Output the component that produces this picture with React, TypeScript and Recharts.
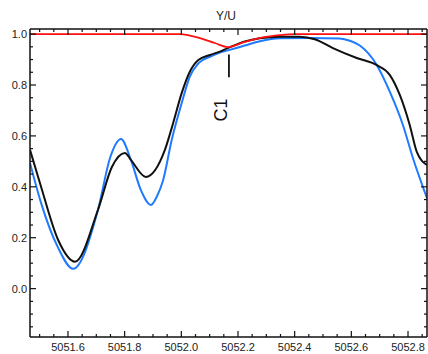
import React from 'react'
import { LineChart, Line, XAxis, YAxis, ReferenceLine, ReferenceDot } from 'recharts'

// wavelength (A), normalised flux
const BLACK: [number, number][] = [
  [5051.466, 0.545], [5051.505, 0.4], [5051.565, 0.192], [5051.625, 0.106],
  [5051.706, 0.31], [5051.755, 0.478], [5051.801, 0.533], [5051.822, 0.506],
  [5051.875, 0.439], [5051.942, 0.545], [5051.971, 0.65], [5052.001, 0.767],
  [5052.03, 0.852], [5052.06, 0.898], [5052.101, 0.918], [5052.136, 0.931],
  [5052.164, 0.945], [5052.224, 0.971], [5052.277, 0.984], [5052.348, 0.99],
  [5052.418, 0.99], [5052.471, 0.98], [5052.535, 0.945], [5052.619, 0.906],
  [5052.69, 0.878], [5052.736, 0.839], [5052.771, 0.761], [5052.806, 0.643],
  [5052.831, 0.537], [5052.867, 0.486],
]

const BLUE: [number, number][] = [
  [5051.466, 0.494], [5051.505, 0.337], [5051.565, 0.161], [5051.618, 0.078],
  [5051.706, 0.31], [5051.75, 0.519], [5051.787, 0.588], [5051.822, 0.506],
  [5051.857, 0.388], [5051.893, 0.329], [5051.915, 0.365], [5051.936, 0.427],
  [5051.966, 0.584], [5052.001, 0.728], [5052.03, 0.833], [5052.06, 0.885],
  [5052.101, 0.911], [5052.136, 0.927], [5052.164, 0.936], [5052.224, 0.955],
  [5052.277, 0.972], [5052.348, 0.984], [5052.453, 0.985], [5052.559, 0.983],
  [5052.595, 0.974], [5052.63, 0.955], [5052.69, 0.878], [5052.736, 0.773],
  [5052.782, 0.643], [5052.817, 0.514], [5052.867, 0.355],
]

const RED: [number, number][] = [
  [5051.466, 1.0], [5051.8, 1.0], [5051.995, 1.0], [5052.03, 0.994],
  [5052.066, 0.984], [5052.118, 0.965], [5052.164, 0.949], [5052.224, 0.969],
  [5052.284, 0.986], [5052.348, 0.996], [5052.4, 1.0], [5052.867, 1.0],
]

const X_TICKS = [
  5051.5, 5051.55, 5051.6, 5051.65, 5051.7, 5051.75, 5051.8, 5051.85, 5051.9, 5051.95,
  5052.0, 5052.05, 5052.1, 5052.15, 5052.2, 5052.25, 5052.3, 5052.35, 5052.4, 5052.45,
  5052.5, 5052.55, 5052.6, 5052.65, 5052.7, 5052.75, 5052.8, 5052.85,
]
const X_LABELS = [5051.6, 5051.8, 5052.0, 5052.2, 5052.4, 5052.6, 5052.8]

const Y_TICKS = [
  -0.15, -0.1, -0.05, 0, 0.05, 0.1, 0.15, 0.2, 0.25, 0.3, 0.35, 0.4, 0.45, 0.5,
  0.55, 0.6, 0.65, 0.7, 0.75, 0.8, 0.85, 0.9, 0.95, 1.0,
]
const Y_LABELS = [0, 0.2, 0.4, 0.6, 0.8, 1.0]

const toRows = (pts: [number, number][]) => pts.map(([x, y]) => ({ x, y }))

const FONT = '"Liberation Sans", Arial, Helvetica, sans-serif'
const INK = '#111'

const isLabel = (v: number, labels: number[]) => labels.some((l) => Math.abs(l - v) < 1e-6)

function makeTick(side: 'bottom' | 'top' | 'left' | 'right') {
  return function Tick(props: any) {
    const { x, y, payload } = props
    const v = payload.value
    const major = isLabel(v, side === 'bottom' || side === 'top' ? X_LABELS : Y_LABELS)
    const len = major ? 6 : 3
    if (side === 'bottom') {
      return (
        <g>
          <line x1={x} x2={x} y1={y} y2={y - len} stroke={INK} strokeWidth={1.2} />
          {major && (
            <text x={x} y={y + 14} textAnchor="middle" fontSize={11} fontFamily={FONT} fill="#222">
              {v.toFixed(1)}
            </text>
          )}
        </g>
      )
    }
    if (side === 'top') {
      return <line x1={x} x2={x} y1={y} y2={y + len} stroke={INK} strokeWidth={1.2} />
    }
    if (side === 'left') {
      return (
        <g>
          <line x1={x} x2={x + len} y1={y} y2={y} stroke={INK} strokeWidth={1.2} />
          {major && (
            <text x={x - 3} y={y + 4} textAnchor="end" fontSize={11} fontFamily={FONT} fill="#222">
              {v.toFixed(1)}
            </text>
          )}
        </g>
      )
    }
    return <line x1={x} x2={x - len} y1={y} y2={y} stroke={INK} strokeWidth={1.2} />
  }
}

const C1Label = (props: any) => {
  const { viewBox } = props
  const cx = viewBox.x + viewBox.width / 2
  const cy = viewBox.y + viewBox.height / 2
  return (
    <text
      x={cx}
      y={cy}
      transform={`rotate(-90 ${cx} ${cy})`}
      textAnchor="middle"
      dominantBaseline="central"
      fontSize={18}
      fontFamily={FONT}
      fill="#111"
    >
      C1
    </text>
  )
}

export default function App() {
  const X_DOMAIN: [number, number] = [5051.466, 5052.867]
  const Y_DOMAIN: [number, number] = [-0.19, 1.02]
  return (
    <div style={{ position: 'relative', width: 428, height: 354, background: '#fff' }}>
      <style>{'body{margin:0}'}</style>
      <div
        style={{
          position: 'absolute', top: 9, left: 0, width: 428, textAlign: 'center',
          fontFamily: FONT, fontSize: 12, color: '#222', paddingLeft: 24,
          boxSizing: 'border-box',
        }}
      >
        Y/U
      </div>
      <LineChart width={428} height={354} margin={{ top: 28, right: 0, bottom: 16, left: 29 }}>
        <XAxis
          xAxisId="b" dataKey="x" type="number" domain={X_DOMAIN} allowDataOverflow
          ticks={X_TICKS} interval={0} height={1} tickSize={0} tickMargin={0}
          tickLine={false} axisLine={{ stroke: INK, strokeWidth: 1.5 }} tick={makeTick('bottom')}
        />
        <XAxis
          xAxisId="t" orientation="top" dataKey="x" type="number" domain={X_DOMAIN} allowDataOverflow
          ticks={X_TICKS} interval={0} height={1} tickSize={0} tickMargin={0}
          tickLine={false} axisLine={{ stroke: INK, strokeWidth: 1.5 }} tick={makeTick('top')}
        />
        <YAxis
          yAxisId="l" type="number" domain={Y_DOMAIN} allowDataOverflow
          ticks={Y_TICKS} interval={0} width={1} tickSize={0} tickMargin={0}
          tickLine={false} axisLine={{ stroke: INK, strokeWidth: 1.5 }} tick={makeTick('left')}
        />
        <YAxis
          yAxisId="r" orientation="right" type="number" domain={Y_DOMAIN} allowDataOverflow
          ticks={Y_TICKS} interval={0} width={1} tickSize={0} tickMargin={0}
          tickLine={false} axisLine={{ stroke: INK, strokeWidth: 1.5 }} tick={makeTick('right')}
        />
        <Line
          xAxisId="b" yAxisId="l" data={toRows(BLUE)} dataKey="y" type="monotone"
          stroke="#1e7bff" strokeWidth={2} dot={false} isAnimationActive={false}
        />
        <Line
          xAxisId="b" yAxisId="l" data={toRows(BLACK)} dataKey="y" type="monotone"
          stroke="#111" strokeWidth={2} dot={false} isAnimationActive={false}
        />
        <Line
          xAxisId="b" yAxisId="l" data={toRows(RED)} dataKey="y" type="monotone"
          stroke="#ff1010" strokeWidth={1.8} dot={false} isAnimationActive={false}
        />
        <ReferenceLine
          xAxisId="b" yAxisId="l"
          segment={[{ x: 5052.168, y: 0.83 }, { x: 5052.168, y: 0.92 }]}
          stroke="#111" strokeWidth={1.8}
        />
        <ReferenceDot
          xAxisId="b" yAxisId="l" x={5052.14} y={0.702} r={1}
          fill="none" stroke="none" label={<C1Label />}
        />
      </LineChart>
    </div>
  )
}
